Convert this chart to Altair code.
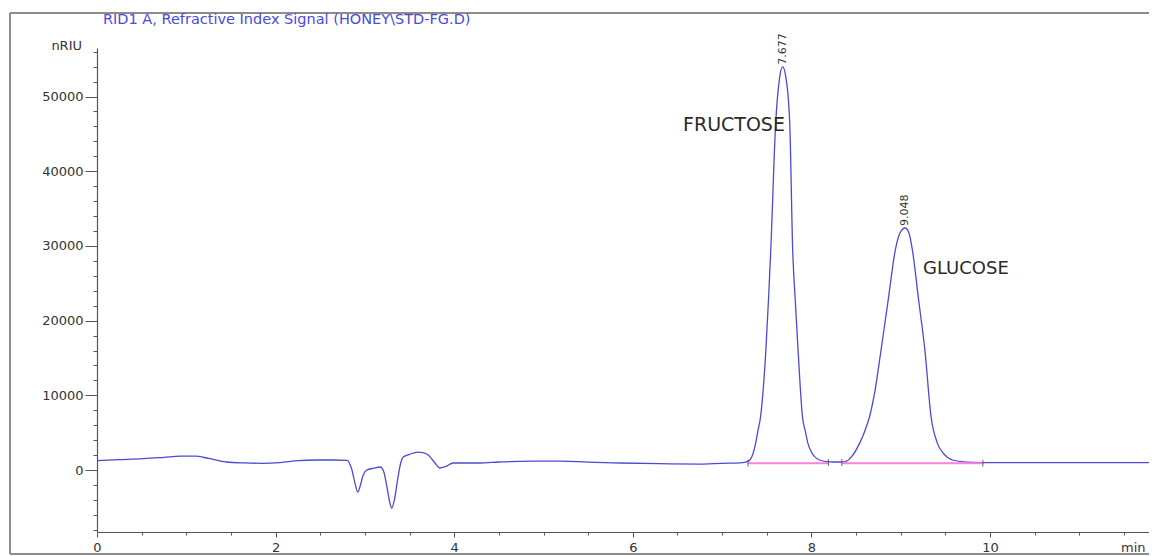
import altair as alt
import pandas as pd

# ---- chromatogram trace (retention time in min, signal in nRIU) ----
time_min = [
    0.00, 0.25, 0.52, 0.75, 0.93, 1.10, 1.25, 1.45, 1.65, 1.85, 2.05, 2.25, 2.45, 2.65,
    2.80, 2.85, 2.89, 2.92, 2.95, 2.98, 3.02, 3.10, 3.17, 3.21, 3.25, 3.28, 3.30, 3.33,
    3.37, 3.40, 3.43, 3.50, 3.59, 3.66, 3.71, 3.78, 3.84, 3.90, 3.99, 4.29, 4.50, 4.85,
    5.20, 5.50, 5.86, 6.30, 6.75, 7.00, 7.20, 7.26, 7.31, 7.376, 7.40, 7.43, 7.49, 7.52,
    7.545, 7.60, 7.64, 7.677, 7.715, 7.757, 7.79, 7.82, 7.85, 7.90, 7.935, 7.96, 8.00,
    8.09, 8.20, 8.30, 8.37, 8.45, 8.54, 8.60, 8.65, 8.71, 8.78, 8.86, 8.94, 8.99, 9.048,
    9.09, 9.13, 9.20, 9.27, 9.34, 9.41, 9.48, 9.58, 9.70, 9.92, 10.30, 10.80, 11.30, 11.78,
]
signal_nriu = [
    1250, 1380, 1520, 1700, 1850, 1870, 1550, 1070, 950, 900, 1000, 1250, 1340, 1340,
    1300, 200, -1800, -2950, -2000, -700, 0, 250, 400, -200, -2500, -4400, -5100, -4000,
    -1000, 900, 1740, 2100, 2400, 2300, 2000, 1000, 270, 450, 940, 940, 1070, 1200,
    1200, 1050, 940, 850, 800, 900, 950, 1050, 1340, 3600, 5200, 7100, 16100, 23000,
    29500, 46500, 52200, 54000, 52500, 46500, 29500, 22500, 16100, 7100, 5000, 3600, 2400,
    1340, 1100, 1070, 1100, 1800, 3600, 5300, 7100, 10500, 16100, 22800, 29500, 31700, 32400,
    31800, 29500, 22800, 16100, 7100, 3600, 2200, 1340, 1100, 1000, 980, 980, 980, 980,
]

# ---- integration results ----
peak_rt = [7.677, 9.048]
peak_height = [54000, 32400]
peak_rt_label = ["7.677", "9.048"]

baseline_start = [7.29, 8.34]
baseline_end = [8.19, 9.92]
baseline_level = [900, 900]

event_rt = [7.29, 8.19, 8.34, 9.92]
event_level = [900, 1000, 1000, 900]

compound_name = ["FRUCTOSE", "GLUCOSE"]

# ---- axis ticks ----
x_ticks = [i * 0.5 for i in range(0, 24)]
y_ticks = list(range(-8000, 56001, 2000))

trace = pd.DataFrame({"t": time_min, "s": signal_nriu})
peaks = pd.DataFrame({"t": peak_rt, "s": peak_height, "lab": peak_rt_label})
base = pd.DataFrame({"t": baseline_start, "t2": baseline_end, "s": baseline_level})
events = pd.DataFrame({"t": event_rt, "s": event_level})

X_DOM = [0, 11.78]
Y_DOM = [-8300, 56500]
FONT = "DejaVu Sans"

xs = alt.Scale(domain=X_DOM, nice=False, zero=False)
ys = alt.Scale(domain=Y_DOM, nice=False, zero=False)

x_axis = alt.Axis(
    values=x_ticks,
    format="~g",
    labelExpr="datum.value % 2 === 0 ? datum.label : ''",
    tickSize={"condition": {"test": "datum.value % 2 === 0", "value": 5}, "value": 3},
    labelPadding=4,
    labelFontSize=13,
    labelFlush=False,
    labelOverlap=False,
    grid=False,
    title=None,
)
y_axis = alt.Axis(
    values=y_ticks,
    format="d",
    labelExpr="datum.value % 10000 === 0 ? datum.label : ''",
    tickSize={"condition": {"test": "datum.value % 10000 === 0", "value": 12}, "value": 4},
    labelPadding=2,
    labelFontSize=13,
    labelOverlap=False,
    grid=False,
    title=None,
)


def X(field):
    return alt.X(field, type="quantitative", scale=xs, axis=x_axis)


def Y(field):
    return alt.Y(field, type="quantitative", scale=ys, axis=y_axis)


one = alt.Data(values=[{}])
FRAME = dict(color="#8c8c8c", strokeWidth=2)

frame_top = alt.Chart(one).mark_rule(**FRAME).encode(
    x=alt.value(-87), x2=alt.value(1052), y=alt.value(-35)
)
frame_left = alt.Chart(one).mark_rule(**FRAME).encode(
    x=alt.value(-87), y=alt.value(-35), y2=alt.value(506)
)
frame_bottom = alt.Chart(one).mark_rule(**FRAME).encode(
    x=alt.value(-87), x2=alt.value(1052), y=alt.value(506)
)

line = alt.Chart(trace).mark_line(color="#4a4ad2", strokeWidth=1.3, interpolate="monotone").encode(
    x=X("t"), y=Y("s")
)

baseline = alt.Chart(base).mark_rule(color="#ff7fe0", strokeWidth=2).encode(
    x=X("t"), x2="t2:Q", y=Y("s")
)

ev = alt.Chart(events).mark_tick(orient="vertical", size=7, thickness=1, color="#333").encode(
    x=X("t"), y=Y("s")
)

peak_labels = alt.Chart(peaks).mark_text(
    angle=270, align="left", baseline="middle", dx=2, font=FONT, fontSize=11, color="#333"
).encode(x=X("t"), y=Y("s"), text="lab:N")

fructose = alt.Chart(one).mark_text(
    text=compound_name[0], align="left", baseline="middle", font=FONT, fontSize=19, color="#2a2a2a"
).encode(x=alt.value(586), y=alt.value(77))

glucose = alt.Chart(one).mark_text(
    text=compound_name[1], align="left", baseline="middle", font=FONT, fontSize=18, color="#2a2a2a"
).encode(x=alt.value(826), y=alt.value(221))

title = alt.Chart(one).mark_text(
    text="RID1 A, Refractive Index Signal (HONEY\\STD-FG.D)",
    align="left", baseline="middle", font=FONT, fontSize=14.5, color="#4b4bd8",
).encode(x=alt.value(6), y=alt.value(-28))

y_title = alt.Chart(one).mark_text(
    text="nRIU", align="right", baseline="middle", font=FONT, fontSize=13, color="#333"
).encode(x=alt.value(-15), y=alt.value(-2))

x_title = alt.Chart(one).mark_text(
    text="min", align="left", baseline="middle", font=FONT, fontSize=13, color="#333"
).encode(x=alt.value(1024), y=alt.value(500))

chart = alt.layer(
    line, frame_top, frame_left, frame_bottom, baseline, ev, peak_labels,
    fructose, glucose, title, y_title, x_title
).properties(
    width=1052,
    height=484,
    autosize=alt.AutoSizeParams(type="none"),
    padding={"left": 89, "top": 40, "right": 0, "bottom": 24},
).configure_view(stroke=None).configure_axis(
    domainColor="#555", tickColor="#555", labelColor="#333", labelFont=FONT,
    domainWidth=1.2, tickWidth=1,
)

chart.save("out.html", embed_options={"renderer": "svg", "actions": False})
